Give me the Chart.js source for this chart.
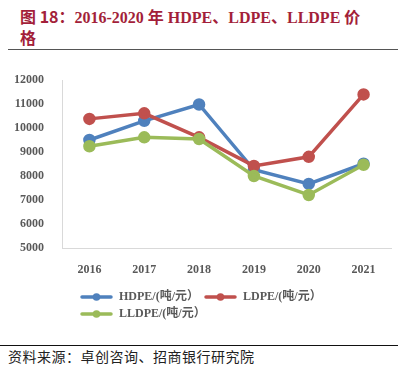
<!DOCTYPE html>
<html>
<head>
<meta charset="utf-8">
<script src="https://cdn.jsdelivr.net/npm/chart.js@4.4.0/dist/chart.umd.min.js"></script>
<style>
  body { margin: 0; width: 416px; height: 373px; background: #fff; position: relative; overflow: hidden; }
  .title { position: absolute; left: 20px; top: 6px; font: bold 16px/21px "Liberation Serif", "Noto Sans CJK SC", serif; color: #a31f3a; white-space: nowrap; }
  .title .hei { font-family: "Noto Sans CJK SC", sans-serif; }
  .rule-top { position: absolute; left: 8px; top: 49px; width: 390px; border-top: 1.5px solid #555; }
  .chart-box { position: absolute; left: 0; top: 55px; width: 416px; height: 275px; }
  .rule-bottom { position: absolute; left: 0; top: 345px; width: 398px; border-top: 1.5px solid #111; }
  .source { position: absolute; left: 8px; top: 347px; font: 14px/18px "Noto Sans CJK SC", sans-serif; letter-spacing: 0.5px; color: #222; }
</style>
</head>
<body>
<div class="title"><span class="hei">图 18：</span>2016-2020 年 HDPE、LDPE、LLDPE 价<br>格</div>
<div class="rule-top"></div>
<div class="chart-box"><canvas id="priceChart"></canvas></div>
<div class="rule-bottom"></div>
<div class="source">资料来源：卓创咨询、招商银行研究院</div>

<script>
/* data */
const years = ["2016", "2017", "2018", "2019", "2020", "2021"];
const hdpe = [9500, 10300, 10980, 8260, 7670, 8510];
const ldpe = [10380, 10610, 9610, 8420, 8800, 11400];
const lldpe = [9240, 9610, 9540, 8000, 7210, 8470];
const seriesNames = ["HDPE/(吨/元）", "LDPE/(吨/元）", "LLDPE/(吨/元）"];
const yTicks = [5000, 6000, 7000, 8000, 9000, 10000, 11000, 12000];

const colors = ["#4f81bd", "#c0504d", "#9bbb59"];
const tickFont = { family: "'Liberation Serif', 'Noto Sans CJK SC', serif", size: 12, weight: "bold" };

// small line + dot sample for the legend
function legendMark(color) {
  const c = document.createElement("canvas");
  c.width = 33;
  c.height = 10;
  const g = c.getContext("2d");
  g.strokeStyle = color;
  g.lineWidth = 3.5;
  g.lineCap = "round";
  g.beginPath();
  g.moveTo(2, 5);
  g.lineTo(31, 5);
  g.stroke();
  g.fillStyle = color;
  g.beginPath();
  g.arc(16.5, 5, 3.8, 0, Math.PI * 2);
  g.fill();
  return c;
}

// nudge legend a bit right, like the excel original
const legendShift = {
  id: "legendShift",
  afterLayout(chart) {
    chart.legend.left += 13;
  }
};

function makeSet(i, values) {
  return {
    label: seriesNames[i],
    data: values,
    borderColor: colors[i],
    backgroundColor: colors[i],
    pointBackgroundColor: colors[i],
    pointBorderColor: colors[i],
    borderWidth: 3.5,
    pointRadius: 4.5,
    tension: 0,
    order: 2 - i
  };
}

document.addEventListener("DOMContentLoaded", () => {
  const canvas = document.getElementById("priceChart");

  new Chart(canvas, {
    type: "line",
    data: {
      labels: years,
      datasets: [makeSet(0, hdpe), makeSet(1, ldpe), makeSet(2, lldpe)]
    },
    options: {
      responsive: true,
      maintainAspectRatio: false,
      animation: false,
      layout: { padding: { top: 25, right: 25, left: 0, bottom: 0 } },
      plugins: {
        legend: {
          position: "bottom",
          align: "start",
          fullSize: false,
          labels: {
            usePointStyle: true,
            pointStyleWidth: 33,
            padding: 5,
            color: "#595959",
            font: tickFont,
            generateLabels(chart) {
              return chart.data.datasets.map((ds, i) => ({
                text: ds.label,
                pointStyle: legendMark(colors[i]),
                fillStyle: colors[i],
                strokeStyle: colors[i],
                lineWidth: 0,
                fontColor: "#595959",
                hidden: false,
                datasetIndex: i
              }));
            }
          }
        },
        tooltip: { enabled: false }
      },
      scales: {
        x: {
          offset: true,
          grid: { display: false },
          border: { display: true, color: "#d9d9d9", width: 1 },
          ticks: { color: "#595959", font: tickFont, padding: 7 },
          afterFit(scale) { scale.height = 38; }
        },
        y: {
          min: yTicks[0],
          max: yTicks[yTicks.length - 1],
          grid: { display: false },
          border: { display: true, color: "#d9d9d9", width: 1 },
          ticks: {
            stepSize: yTicks[1] - yTicks[0],
            color: "#595959",
            font: tickFont,
            padding: 10,
            callback: v => String(v)
          },
          afterFit(scale) { scale.width = 62; }
        }
      }
    },
    plugins: [legendShift]
  });
});
</script>
</body>
</html>
